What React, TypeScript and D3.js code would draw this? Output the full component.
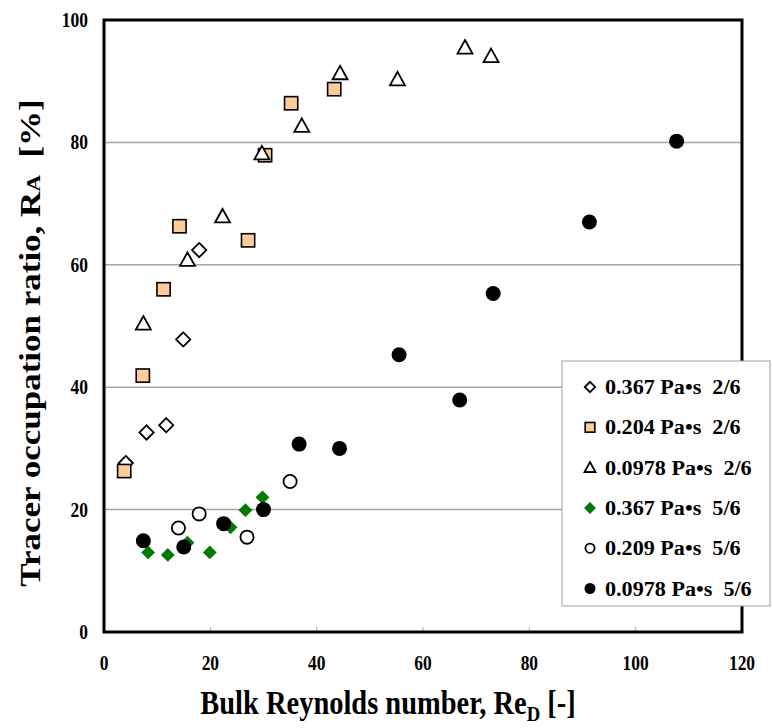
import React from "react";
import * as d3 from "d3";

// Bulk Reynolds number (x) and tracer occupation ratio in % (y) per condition
const s1X = [4.1, 8.0, 11.7, 14.9, 17.9];
const s1Y = [27.6, 32.6, 33.8, 47.8, 62.4];

const s2X = [3.8, 7.3, 11.2, 14.2, 27.1, 30.3, 35.2, 43.3];
const s2Y = [26.3, 41.9, 56.0, 66.3, 64.0, 77.9, 86.4, 88.7];

const s3X = [7.4, 15.7, 22.3, 29.7, 37.2, 44.4, 55.2, 67.9, 72.8];
const s3Y = [50.4, 60.8, 67.9, 78.2, 82.7, 91.3, 90.3, 95.5, 94.1];

const s4X = [8.3, 12.0, 15.7, 19.9, 23.8, 26.6, 29.8];
const s4Y = [13.0, 12.6, 14.6, 13.0, 17.1, 19.9, 22.0];

const s5X = [14.0, 17.9, 26.9, 35.0];
const s5Y = [17.0, 19.3, 15.5, 24.6];

const s6X = [7.4, 15.0, 22.5, 30.0, 36.7, 44.3, 55.5, 66.9, 73.2, 91.3, 107.7];
const s6Y = [14.9, 13.9, 17.7, 20.0, 30.7, 30.0, 45.3, 37.9, 55.3, 67.0, 80.2];

const seriesLabels = [
  "0.367 Pa\u2022s  2/6",
  "0.204 Pa\u2022s  2/6",
  "0.0978 Pa\u2022s  2/6",
  "0.367 Pa\u2022s  5/6",
  "0.209 Pa\u2022s  5/6",
  "0.0978 Pa\u2022s  5/6",
];

const xTicks = [0, 20, 40, 60, 80, 100, 120];
const yTicks = [0, 20, 40, 60, 80, 100];
const gridValues = [20, 40, 60, 80];

type Shape = "diamond" | "square" | "triangle" | "circle";
interface Style {
  shape: Shape;
  fill: string;
  stroke: string;
  sw: number;
}

const styles: Style[] = [
  { shape: "diamond", fill: "#ffffff", stroke: "#000000", sw: 1.8 },
  { shape: "square", fill: "#ffcc99", stroke: "#000000", sw: 1.6 },
  { shape: "triangle", fill: "#ffffff", stroke: "#000000", sw: 1.8 },
  { shape: "diamond", fill: "#007a00", stroke: "#007a00", sw: 0 },
  { shape: "circle", fill: "#ffffff", stroke: "#000000", sw: 1.8 },
  { shape: "circle", fill: "#000000", stroke: "#000000", sw: 0 },
];

const seriesData = [
  d3.zip(s1X, s1Y),
  d3.zip(s2X, s2Y),
  d3.zip(s3X, s3Y),
  d3.zip(s4X, s4Y),
  d3.zip(s5X, s5Y),
  d3.zip(s6X, s6Y),
];

const W = 772;
const H = 728;
const plot = { left: 104, right: 742, top: 20, bottom: 632 };

const x = d3.scaleLinear().domain([0, 120]).range([plot.left, plot.right]);
const y = d3.scaleLinear().domain([0, 100]).range([plot.bottom, plot.top]);

const font = "'Liberation Serif', 'Times New Roman', serif";
// axis lettering is set narrow, legend lettering slightly wide
const AXIS_SX = 0.85;
const LEGEND_SX = 1.08;

function Marker({ st, cx, cy, size }: { st: Style; cx: number; cy: number; size: number }) {
  const r = size / 2;
  if (st.shape === "circle") {
    return <circle cx={cx} cy={cy} r={st.sw ? r - st.sw / 2 : r} fill={st.fill} stroke={st.stroke} strokeWidth={st.sw} />;
  }
  if (st.shape === "square") {
    const h = r * 0.88;
    return <rect x={cx - h} y={cy - h} width={2 * h} height={2 * h} fill={st.fill} stroke={st.stroke} strokeWidth={st.sw} />;
  }
  if (st.shape === "triangle") {
    const p = `${cx},${cy - r} ${cx + r},${cy + r * 0.8} ${cx - r},${cy + r * 0.8}`;
    return <polygon points={p} fill={st.fill} stroke={st.stroke} strokeWidth={st.sw} strokeLinejoin="miter" />;
  }
  const d = st.sw ? r * 0.95 : r * 0.92;
  const p = `${cx},${cy - d} ${cx + d},${cy} ${cx},${cy + d} ${cx - d},${cy}`;
  return <polygon points={p} fill={st.fill} stroke={st.stroke} strokeWidth={st.sw} />;
}

export default function App() {
  const legend = { x: 562, y: 361, w: 208, h: 245 };
  return (
    <svg width={W} height={H} style={{ position: "absolute", left: 0, top: 0, background: "#fff" }} fontFamily={font}>
      <rect x={0} y={0} width={W} height={H} fill="#ffffff" />
      {gridValues.map((v) => (
        <line key={v} x1={plot.left} x2={plot.right} y1={y(v)} y2={y(v)} stroke="#a6a6a6" strokeWidth={1.5} />
      ))}
      {xTicks.slice(1, -1).map((v) => (
        <line key={v} x1={x(v)} x2={x(v)} y1={plot.bottom} y2={plot.bottom - 5} stroke="#a6a6a6" strokeWidth={1} />
      ))}
      {seriesData.map((pts, i) =>
        pts.map(([px, py], j) => <Marker key={`${i}-${j}`} st={styles[i]} cx={x(px)} cy={y(py)} size={15} />)
      )}
      <rect
        x={plot.left}
        y={plot.top}
        width={plot.right - plot.left}
        height={plot.bottom - plot.top}
        fill="none"
        stroke="#000"
        strokeWidth={3}
      />
      {yTicks.map((v) => (
        <text
          key={v}
          transform={`translate(88, ${y(v) + 7}) scale(${AXIS_SX}, 1)`}
          textAnchor="end"
          fontSize={20.5}
          fontWeight="bold"
        >
          {v}
        </text>
      ))}
      {xTicks.map((v) => (
        <text
          key={v}
          transform={`translate(${x(v)}, 670) scale(${AXIS_SX}, 1)`}
          textAnchor="middle"
          fontSize={20.5}
          fontWeight="bold"
        >
          {v}
        </text>
      ))}
      <text transform={`translate(388, 714) scale(${AXIS_SX}, 1)`} textAnchor="middle" fontSize={33.5} fontWeight="bold">
        Bulk Reynolds number, Re
        <tspan fontSize={22} dy={7}>D</tspan>
        <tspan dy={-7}> [-]</tspan>
      </text>
      <text
        transform={`translate(40, 343) scale(${AXIS_SX}, 1) rotate(-90)`}
        textAnchor="middle"
        fontSize={35}
        fontWeight="bold"
      >
        Tracer occupation ratio, R
        <tspan fontSize={23}>A</tspan>
        <tspan xmlSpace="preserve">{"  [%]"}</tspan>
      </text>
      <rect x={legend.x} y={legend.y} width={legend.w} height={legend.h} fill="#ffffff" stroke="#a0a0a0" strokeWidth={1} />
      {seriesLabels.map((lab, i) => {
        const cy = 387 + i * 40.3;
        return (
          <g key={lab}>
            <Marker st={styles[i]} cx={590} cy={cy} size={i === 3 ? 13 : 11} />
            <text
              transform={`translate(605, ${cy + 7}) scale(${LEGEND_SX}, 1)`}
              fontSize={20.5}
              fontWeight="bold"
              style={{ whiteSpace: "pre" }}
            >
              {lab}
            </text>
          </g>
        );
      })}
    </svg>
  );
}
